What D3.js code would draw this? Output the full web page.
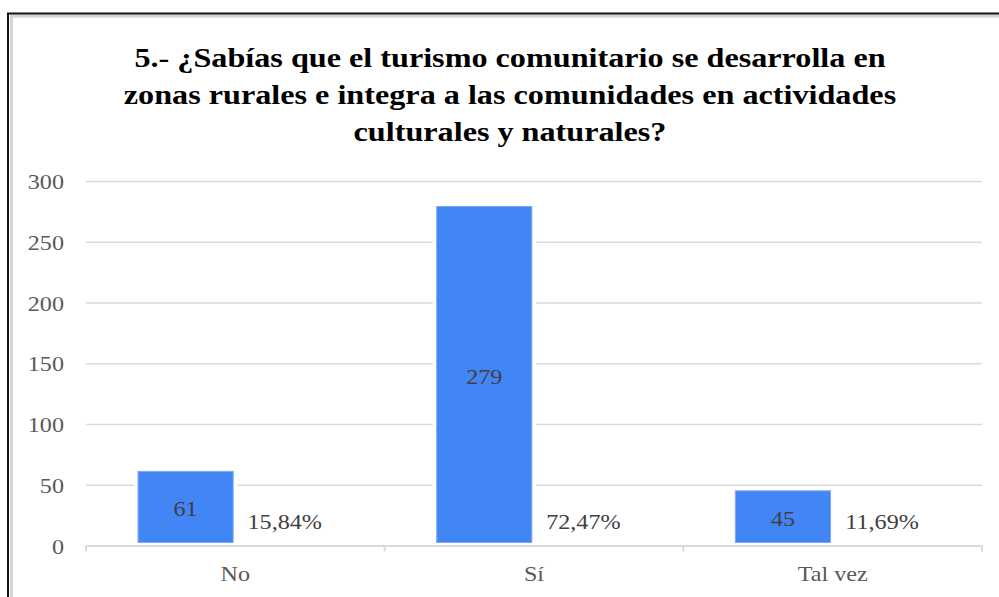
<!DOCTYPE html>
<html>
<head>
<meta charset="utf-8">
<script src="https://cdn.jsdelivr.net/npm/d3@7"></script>
<style>
  body { margin: 0; background: #fff; }
  svg { display: block; }
</style>
</head>
<body>
<div id="chart"></div>
<script>
// data
const CATEGORIES = ["No", "Sí", "Tal vez"];
const COUNTS = [61, 279, 45];
const PERCENTS = ["15,84%", "72,47%", "11,69%"];
const Y_TICKS = [0, 50, 100, 150, 200, 250, 300];
const TITLE_LINES = [
  "5.- ¿Sabías que el turismo comunitario se desarrolla en",
  "zonas rurales e integra a las comunidades en actividades",
  "culturales y naturales?"
];

// frame constants
const FRAME_WIDTH = 999;
const FRAME_HEIGHT = 597;
const PLOT = {left: 86, right: 982, top: 181, bottom: 545.5};
const STRETCH = 1.15; // the source picture is widened a bit
const SERIF = "'Liberation Serif', 'Times New Roman', Times, serif";

const FRAME = d3.select("#chart")
  .append("svg")
    .attr("width", FRAME_WIDTH)
    .attr("height", FRAME_HEIGHT);

// outer border
FRAME.append("rect")
  .attr("x", 11.5).attr("y", 16)
  .attr("width", 1200).attr("height", 800)
  .attr("fill", "none")
  .attr("stroke", "#d4d4d4")
  .attr("stroke-width", 3);
FRAME.append("rect")
  .attr("x", 8).attr("y", 13.5)
  .attr("width", 1200).attr("height", 800)
  .attr("fill", "none")
  .attr("stroke", "#111")
  .attr("stroke-width", 2);

// helper for widened text
function label(g, x, y, txt, size) {
  return g.append("text")
    .attr("transform", "translate(" + x + "," + y + ") scale(" + STRETCH + ",1)")
    .style("font-family", SERIF)
    .style("font-size", size)
    .text(txt);
}

// title
const TITLE_Y = [66.5, 104, 140.5];
TITLE_LINES.forEach((t, i) => {
  label(FRAME, 510, TITLE_Y[i], t, "28px")
    .attr("text-anchor", "middle")
    .style("font-weight", "700")
    .attr("fill", "#000");
});

// scales
const Y_SCALE = d3.scaleLinear()
  .domain([0, 300])
  .range([PLOT.bottom, PLOT.top]);

const X_SCALE = d3.scaleBand()
  .domain(CATEGORIES)
  .range([PLOT.left, PLOT.right])
  .padding(0);

const SERIES_SCALE = d3.scaleBand()
  .domain(["count", "pct"])
  .range([0, X_SCALE.bandwidth()])
  .paddingInner(0)
  .paddingOuter(0.57)
  .align(0.48);

// gridlines
const GRID = FRAME.append("g")
  .attr("transform", "translate(" + PLOT.left + ",0)")
  .call(d3.axisLeft(Y_SCALE).tickValues(Y_TICKS.slice(1))
        .tickSize(-(PLOT.right - PLOT.left)).tickFormat(""));
GRID.select(".domain").remove();
GRID.selectAll("line")
  .attr("stroke", "#d9d9d9")
  .attr("stroke-width", 1.5);

// y tick labels
Y_TICKS.forEach((v) => {
  label(FRAME, 64, Y_SCALE(v) + 8, String(v), "21px")
    .attr("text-anchor", "end")
    .attr("fill", "#595959");
});

// bars with white halo
const BARS = FRAME.selectAll(".bar")
  .data(CATEGORIES.map((c, i) => ({cat: c, val: COUNTS[i], pct: PERCENTS[i]})))
  .enter()
  .append("g")
    .attr("class", "bar");

BARS.append("rect")
  .attr("x", (d) => X_SCALE(d.cat) + SERIES_SCALE("count") - 4)
  .attr("y", (d) => Y_SCALE(d.val) - 4)
  .attr("width", SERIES_SCALE.bandwidth() + 8)
  .attr("height", (d) => PLOT.bottom - Y_SCALE(d.val) + 4)
  .attr("fill", "#fff");

BARS.append("rect")
  .attr("x", (d) => X_SCALE(d.cat) + SERIES_SCALE("count"))
  .attr("y", (d) => Y_SCALE(d.val))
  .attr("width", SERIES_SCALE.bandwidth())
  .attr("height", (d) => PLOT.bottom - 3 - Y_SCALE(d.val))
  .attr("fill", "#4285f4")
  .attr("stroke", "#7aaaf7")
  .attr("stroke-width", 1);

// value labels inside the bars, percentages next to them
BARS.each(function (d) {
  const g = d3.select(this);
  const cx = X_SCALE(d.cat) + SERIES_SCALE("count") + SERIES_SCALE.bandwidth() / 2;
  const cy = (Y_SCALE(d.val) + PLOT.bottom) / 2;
  label(g, cx, cy + 8, String(d.val), "21px")
    .attr("text-anchor", "middle")
    .attr("fill", "#404040");
  const px = X_SCALE(d.cat) + SERIES_SCALE("pct") + SERIES_SCALE.bandwidth() / 2 + 4;
  label(g, px, PLOT.bottom - 17, d.pct, "21px")
    .attr("text-anchor", "middle")
    .attr("fill", "#404040");
});

// x axis baseline and ticks
const X_AXIS = FRAME.append("g")
  .attr("transform", "translate(0," + PLOT.bottom + ")")
  .call(d3.axisBottom(X_SCALE).tickSizeOuter(0).tickSizeInner(0).tickFormat(""));
X_AXIS.select(".domain")
  .attr("stroke", "#d9d9d9")
  .attr("stroke-width", 2);
X_AXIS.selectAll(".tick").remove();
X_AXIS.selectAll(".sep")
  .data(CATEGORIES.map((c) => X_SCALE(c)).concat([PLOT.right]))
  .enter()
  .append("line")
    .attr("x1", (d) => d).attr("x2", (d) => d)
    .attr("y1", 0).attr("y2", 6)
    .attr("stroke", "#d9d9d9")
    .attr("stroke-width", 2);

// category labels
CATEGORIES.forEach((c) => {
  label(FRAME, X_SCALE(c) + X_SCALE.bandwidth() / 2, 580.5, c, "21px")
    .attr("text-anchor", "middle")
    .attr("fill", "#595959");
});
</script>
</body>
</html>
